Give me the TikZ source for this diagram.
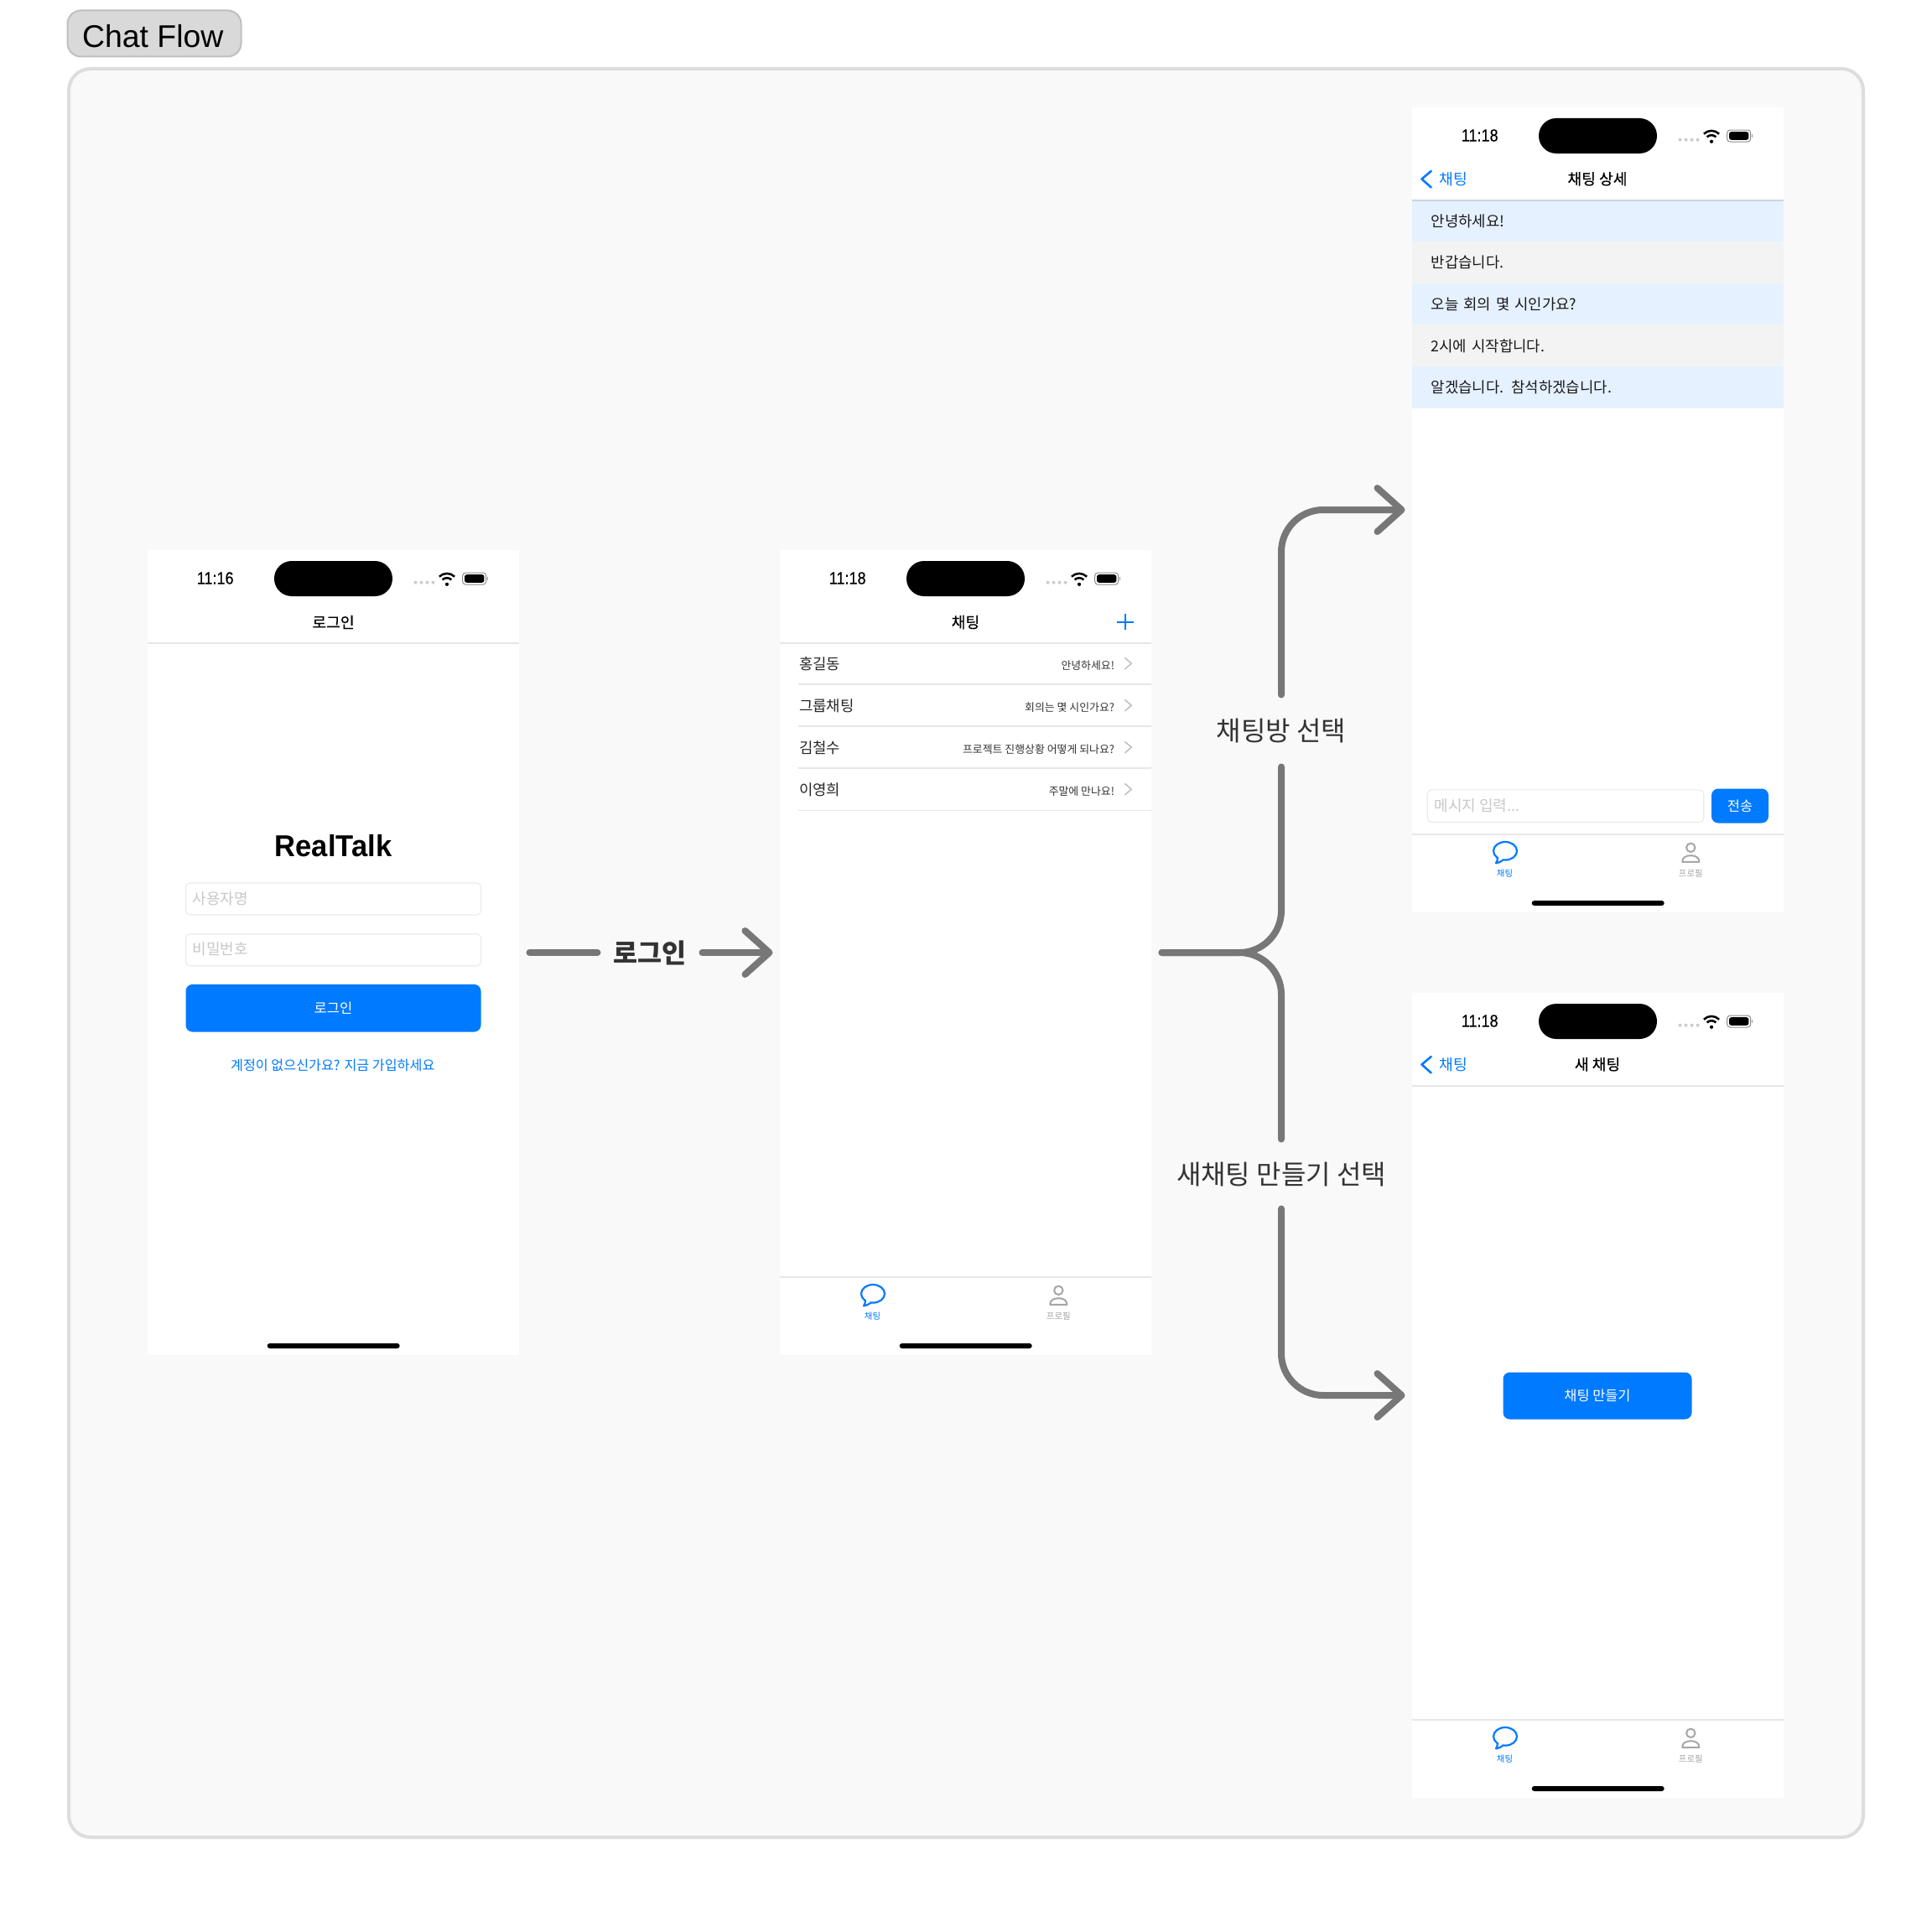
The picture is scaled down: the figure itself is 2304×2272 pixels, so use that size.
\documentclass[tikz,border=0pt]{standalone}
\usepackage{fontspec}
\usepackage{graphicx}
\setmainfont{Noto Sans CJK KR}
\newfontfamily\krm[FakeBold=0.35]{Noto Sans CJK KR}
\newfontfamily\lat{Liberation Sans}
\newfontfamily\latm[FakeBold=0.5]{Liberation Sans}
\usetikzlibrary{arrows.meta}
\definecolor{iosblue}{HTML}{007AFF}
\definecolor{flowgray}{HTML}{777777}
\definecolor{panelbg}{HTML}{F9F9F9}
\definecolor{panelline}{HTML}{DDDDDD}
\definecolor{hair}{HTML}{E6E6E6}
\definecolor{fieldline}{HTML}{EBEBEB}
\definecolor{placeholder}{HTML}{C8C8C8}
\definecolor{tabgray}{HTML}{A6A6A6}
\definecolor{bubbleblue}{HTML}{E5F1FF}
\definecolor{bubblegray}{HTML}{F3F3F3}
\newcommand{\fsz}[1]{\fontsize{#1}{#1}\selectfont}
\tikzset{
  x=1pt,y=-1pt,
  phone/.style={fill=white,minimum width=443pt,minimum height=960pt,inner sep=0pt,outer sep=8.5pt},
  plain/.style={inner sep=0pt,outer sep=0pt},
  navtitle/.style={plain,font=\krm\fsz{18.2},text=black},
  field/.style={plain,draw=fieldline,line width=1.2pt,fill=white,rounded corners=5pt},
  hint/.style={plain,anchor=west,text=placeholder,font=\fsz{18}},
  bluebtn/.style={plain,fill=iosblue,rounded corners=8pt,text=white},
  flow/.style={draw=flowgray,line width=8pt,line cap=round,rounded corners=50pt},
  flowtip/.style={-{Straight Barb[length=29pt,width=52pt,line cap=round,line join=round]}},
  flowlabel/.style={plain,text=black!80,font=\fsz{32}},
  sepline/.style={draw=hair,line width=1.2pt},
  namecell/.style={plain,anchor=west,font=\fsz{17.8},text=black!85},
  lastmsg/.style={plain,anchor=east,font=\fsz{12.9},text=black!80},
  chev/.style={draw=#1,line cap=round,line join=round,fill=none},
  msgrow/.style={plain,fill=#1,minimum height=49.8pt,text width=397.6pt,inner xsep=22.7pt,align=left,font=\fsz{17.8},text=black!90},
  statusbar/.pic={
    \node[plain,font=\latm\fsz{20.5}] (-time) at (80.7,32.5) {\scalebox{0.88}[1]{#1}};
    \node[plain,fill=black,minimum width=141pt,minimum height=42pt,rounded corners=20.9pt] (-island) at (221.5,33) {};
    \foreach \dx in {319.5,326.5,333.5,340.5}{\fill[black!20] (\dx,37.7) circle (2pt);}
    \fill (357,39.8) circle (2.1pt);
    \draw[line width=2.5pt] (351.6,34.4) arc[start angle=135,end angle=45,radius=7.6pt,y=1pt];
    \draw[line width=2.5pt] (347.9,30.7) arc[start angle=135,end angle=45,radius=12.9pt,y=1pt];
    \draw[draw=black!45,line width=1pt,rounded corners=3.5pt] (375.7,26) rectangle (403.7,40);
    \fill[rounded corners=2.6pt] (378,28.2) rectangle (401.4,37.8);
    \fill[black!40] (404.6,31) rectangle (405.8,35);
  },
  homebar/.pic={
    \fill[rounded corners=3pt] (142.7,945) rectangle (300.7,951);
  },
  headrule/.pic={
    \draw[draw=hair,line width=1.2pt] (0,110) -- (443,110);
  },
  tabbar/.pic={
    \draw[draw=hair,line width=1.2pt] (0,866) -- (443,866);
    \draw[iosblue,line width=2.2pt,fill=white] (111,885.8) ellipse[x radius=14pt,y radius=10.8pt];
    \draw[iosblue,line width=2.2pt,fill=white,line join=round] (101.8,893) .. controls (102,897) and (101,899) .. (100,900.3) .. controls (103,900) and (106,898.8) .. (108.5,896.4);
    \fill[white] (103,891) -- (108,896) -- (104,896.5) -- cycle;
    \node[plain,font=\fsz{10.4},text=iosblue] (-tabchat) at (110.5,913) {채팅};
    \draw[tabgray,line width=2pt] (332.3,881.8) circle (5.2pt);
    \draw[tabgray,line width=2pt,line join=round] (322.2,898.8) .. controls (322,893.5) and (327,891.2) .. (332.3,891.2) .. controls (337.6,891.2) and (342.6,893.5) .. (342.4,898.8) -- cycle;
    \node[plain,font=\fsz{10.4},text=tabgray] (-tabprofile) at (332.3,913) {프로필};
  },
  backnav/.pic={
    \draw[chev=iosblue,line width=2.6pt] (22.7,75) -- (11.5,84.5) -- (22.7,94.5);
    \node[plain,anchor=west,font=\fsz{18.2},text=iosblue] (-back) at (32.7,84.3) {채팅};
  },
}
\begin{document}
\begin{tikzpicture}
\useasboundingbox (0,0) rectangle (2304,2272);
\fill[white] (0,0) rectangle (2304,2272);

% frame and tag
\node[plain,draw=panelline,line width=4pt,fill=panelbg,rounded corners=26pt,minimum width=2140pt,minimum height=2109pt] (panel) at (1152,1136.5) {};
\node[plain,draw=black!25,line width=2pt,fill=black!15,rounded corners=16pt,minimum width=207pt,minimum height=55pt] (tag) at (184,40) {};
\node[plain,font=\lat\fsz{37.4}] (tagtext) at (182.3,43) {Chat Flow};

% phones
\node[phone] (login) at (397.5,1136) {};
\node[phone] (chat) at (1151.5,1136) {};
\node[phone] (detail) at (1905.5,608) {};
\node[phone] (newchat) at (1905.5,1664) {};

% login screen
\begin{scope}[shift={(176,657)}]
  \pic (ls) at (0,0) {statusbar={11:16}};
  \pic at (0,0) {headrule};
  \pic at (0,0) {homebar};
  \node[navtitle] (logintitle) at (221.5,85) {로그인};
  \node[plain,font=\lat\bfseries\fsz{36},text=black] (brand) at (221.5,352) {\scalebox{0.96}[1]{RealTalk}};
  \node[field,minimum width=352pt,minimum height=38pt] (userfield) at (221.5,415) {};
  \node[hint] (userhint) at (53.5,414.5) {사용자명};
  \node[field,minimum width=352pt,minimum height=38pt] (passfield) at (221.5,475.7) {};
  \node[hint] (passhint) at (53.5,475) {비밀번호};
  \node[bluebtn,minimum width=352pt,minimum height=56.6pt,font=\fsz{16.5}] (loginbtn) at (221.5,545.2) {로그인};
  \node[plain,font=\fsz{16.2},text=iosblue] (signup) at (220.8,613) {계정이 없으신가요? 지금 가입하세요};
\end{scope}

% chat list screen
\begin{scope}[shift={(930,657)}]
  \pic (cs) at (0,0) {statusbar={11:18}};
  \pic at (0,0) {headrule};
  \pic at (0,0) {tabbar};
  \pic at (0,0) {homebar};
  \node[navtitle] (chattitle) at (221.5,85) {채팅};
  \draw[iosblue,line width=2pt] (402.3,84.5) -- (421.7,84.5) (412,74.8) -- (412,94.2);
  \foreach \sy in {159,209,259,309.2}{\draw[sepline] (22.3,\sy) -- (443,\sy);}
  \node[namecell] (n1) at (23,134.7) {홍길동};
  \node[namecell] (n2) at (23,184.7) {그룹채팅};
  \node[namecell] (n3) at (23,234.7) {김철수};
  \node[namecell] (n4) at (23,284.7) {이영희};
  \node[lastmsg] (m1) at (399,136.7) {안녕하세요!};
  \node[lastmsg] (m2) at (399,186.7) {회의는 몇 시인가요?};
  \node[lastmsg] (m3) at (399,236.7) {프로젝트 진행상황 어떻게 되나요?};
  \node[lastmsg] (m4) at (399,286.7) {주말에 만나요!};
  \foreach \cy in {134.2,184.2,234.2,284.2}{\draw[chev=black!25,line width=1.5pt] (411.7,\cy-6.5) -- (419.3,\cy) -- (411.7,\cy+6.5);}
\end{scope}

% chat detail screen
\begin{scope}[shift={(1684,129)}]
  \pic (ds) at (0,0) {statusbar={11:18}};
  \pic at (0,0) {backnav};
  \node[navtitle] (detailtitle) at (221,84.3) {채팅 상세};
  \node[msgrow=bubbleblue] (r1) at (221.5,134.8) {안녕하세요!};
  \node[msgrow=bubblegray] (r2) at (221.5,184.3) {반갑습니다.};
  \node[msgrow=bubbleblue] (r3) at (221.5,233.8) {오늘 회의 몇 시인가요?};
  \node[msgrow=bubblegray] (r4) at (221.5,283.3) {2시에 시작합니다.};
  \node[msgrow=bubbleblue] (r5) at (221.5,332.8) {알겠습니다. 참석하겠습니다.};
  \draw[draw=black!12!bubbleblue,line width=1.2pt] (0,110) -- (443,110);
  \node[field,minimum width=329.4pt,minimum height=38.7pt] (msgfield) at (183,832.2) {};
  \node[hint] (msghint) at (26.7,832) {메시지 입력...};
  \node[bluebtn,minimum width=68pt,minimum height=41pt,font=\fsz{16.5}] (sendbtn) at (391,832) {전송};
  \pic at (0,0) {tabbar};
  \pic at (0,0) {homebar};
\end{scope}

% new chat screen
\begin{scope}[shift={(1684,1185)}]
  \pic (ns) at (0,0) {statusbar={11:18}};
  \pic at (0,0) {backnav};
  \pic at (0,0) {headrule};
  \pic at (0,0) {tabbar};
  \pic at (0,0) {homebar};
  \node[navtitle] (newtitle) at (221,84.3) {새 채팅};
  \node[bluebtn,minimum width=225pt,minimum height=56pt,font=\fsz{16.4}] (createbtn) at (221,479.5) {채팅 만들기};
\end{scope}

% connector labels
\node[flowlabel,font=\bfseries\fsz{31.6},minimum width=125pt] (loginlabel) at (775,1136.5) {로그인};
\node[flowlabel,minimum height=86pt] (picklabel) at (1528,871.5) {채팅방 선택};
\node[flowlabel,minimum height=83pt] (newlabel) at (1528,1400) {새채팅 만들기 선택};

% connectors
\coordinate (loginend) at (login.east);
\draw[flow,shorten <=4pt] (loginend) -- (loginlabel.west |- loginend);
\draw[flow,flowtip] (loginlabel.east |- loginend) -- (chat.west);
\draw[flow,flowtip] (picklabel.north) |- (detail.west);
\draw[flow,shorten >=4pt] (picklabel.south) |- (chat.east);
\draw[flow,shorten >=4pt] (newlabel.north) |- (chat.east);
\draw[flow,flowtip] (newlabel.south) |- (newchat.west);
\end{tikzpicture}
\end{document}
